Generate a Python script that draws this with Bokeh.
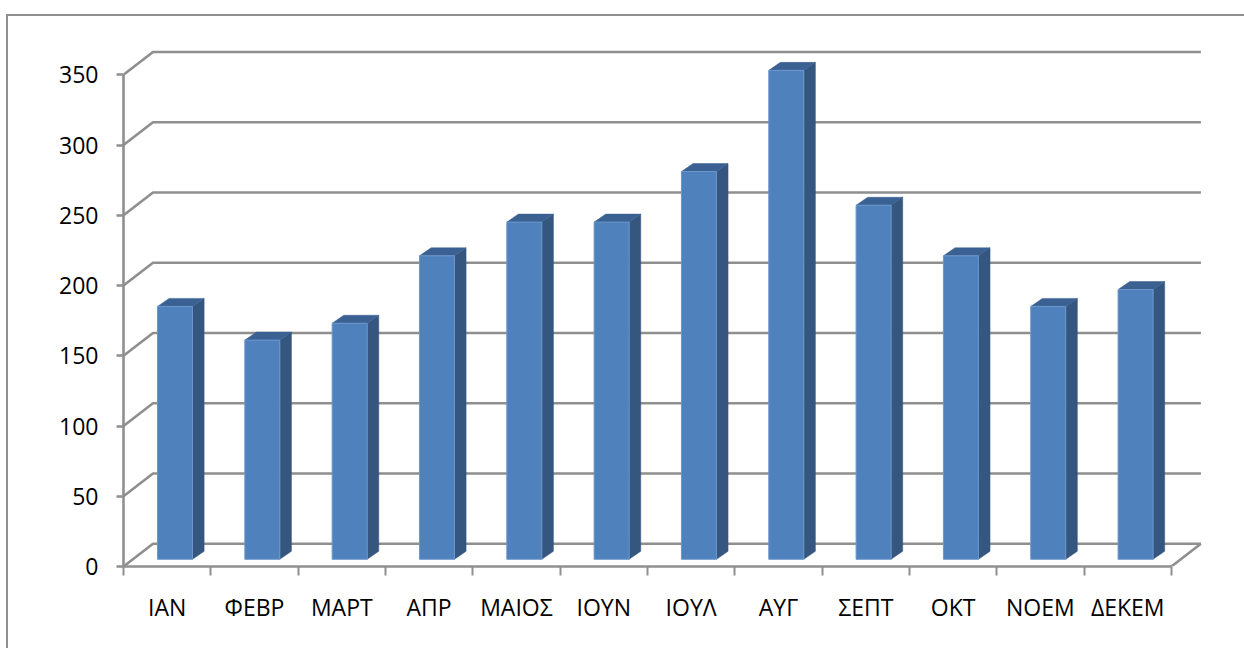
from bokeh.embed import file_html
from bokeh.models import FixedTicker, Range1d
from bokeh.plotting import figure
from bokeh.resources import INLINE

months = ["ΙΑΝ", "ΦΕΒΡ", "ΜΑΡΤ", "ΑΠΡ", "ΜΑΙΟΣ", "ΙΟΥΝ", "ΙΟΥΛ", "ΑΥΓ", "ΣΕΠΤ", "ΟΚΤ", "ΝΟΕΜ", "ΔΕΚΕΜ"]
values = [180, 156, 168, 216, 240, 240, 276, 348, 252, 216, 180, 192]
y_ticks = [0, 50, 100, 150, 200, 250, 300, 350]

WIDTH, HEIGHT = 1244, 648
LEFT, BOTTOM = 123.3, 82.5
PX_PER_CATEGORY = 87.3
PX_PER_UNIT = 491.3 / 350

GRID = "#8f8f8f"
FRONT = "#4f81bd"
SIDE = "#34567f"
TOP = "#3a6192"
FONT = "Open Sans"

# Oblique offsets of the chart's depth, in data units
wall_dx = 29.5 / PX_PER_CATEGORY
wall_dy = 22.7 / PX_PER_UNIT
bar_dx = 11.6 / PX_PER_CATEGORY
bar_dy = 8 / PX_PER_UNIT
bar_lift = 7.2 / PX_PER_UNIT
bar_left = 34 / PX_PER_CATEGORY
bar_width = 35 / PX_PER_CATEGORY

n = len(months)
p = figure(
    width=WIDTH, height=HEIGHT, output_backend="svg", toolbar_location=None,
    min_border_left=int(LEFT), min_border_right=0, min_border_top=0, min_border_bottom=int(BOTTOM),
    x_range=Range1d(0, (WIDTH - LEFT) / PX_PER_CATEGORY),
    y_range=Range1d(0, (HEIGHT - BOTTOM) / PX_PER_UNIT),
    outline_line_color=None, background_fill_color=None, border_fill_color=None,
)
p.grid.visible = False

# Outer chart border: only its left and top edges fall inside the page
edge = f"linear-gradient({GRID},{GRID})"
p.styles = {
    "background-color": "white",
    "background-image": f"{edge},{edge}",
    "background-size": "2px 634px, 1238px 2px",
    "background-position": "6px 14px, 6px 14px",
    "background-repeat": "no-repeat",
}

# Back wall gridlines with their diagonal run to the value axis, plus the floor's far side
grid_xs = [[0, wall_dx, n + wall_dx] for _ in y_ticks]
grid_ys = [[t, t + wall_dy, t + wall_dy] for t in y_ticks]
p.multi_line(grid_xs, grid_ys, line_color=GRID, line_width=2.6)
p.line([n, n + wall_dx], [0, wall_dy], line_color=GRID, line_width=2.6)

# Each column: side face, top face, then front face
fronts_l = [i + bar_left for i in range(n)]
fronts_r = [x + bar_width for x in fronts_l]
bases = [bar_lift] * n
tops = [bar_lift + v for v in values]

p.patches(
    [[r, r + bar_dx, r + bar_dx, r] for r in fronts_r],
    [[b, b + bar_dy, t + bar_dy, t] for b, t in zip(bases, tops)],
    fill_color=SIDE, line_color=SIDE, line_width=0.5,
)
p.patches(
    [[l, l + bar_dx, r + bar_dx, r] for l, r in zip(fronts_l, fronts_r)],
    [[t, t + bar_dy, t + bar_dy, t] for t in tops],
    fill_color=TOP, line_color=TOP, line_width=0.5,
)
p.quad(left=fronts_l, right=fronts_r, bottom=bases, top=tops,
       fill_color=FRONT, line_color="#6c97cb", line_width=1)

ax = p.yaxis[0]
ax.ticker = FixedTicker(ticks=y_ticks)
ax.bounds = (0, 350)
ax.axis_line_color = GRID
ax.axis_line_width = 2.6
ax.major_tick_line_color = GRID
ax.major_tick_line_width = 2.4
ax.major_tick_out = 7
ax.major_tick_in = 0
ax.minor_tick_line_color = None
ax.major_label_standoff = 18
ax.major_label_text_font = FONT
ax.major_label_text_font_size = "23px"
ax.major_label_text_color = "black"

# Month names sit between the ticks, so labels use major ticks and the marks use minor ones
bx = p.xaxis[0]
bx.ticker = FixedTicker(ticks=[i + 0.5 for i in range(n)], minor_ticks=list(range(n + 1)))
bx.major_label_overrides = {i + 0.5: m for i, m in enumerate(months)}
bx.bounds = (0, n)
bx.axis_line_color = GRID
bx.axis_line_width = 2.6
bx.major_tick_line_color = None
bx.major_tick_out = 0
bx.major_tick_in = 0
bx.minor_tick_line_color = GRID
bx.minor_tick_line_width = 2
bx.minor_tick_out = 9
bx.minor_tick_in = 0
bx.major_label_standoff = 15
bx.major_label_text_font = FONT
bx.major_label_text_font_size = "23px"
bx.major_label_text_color = "black"

open("out.html", "w").write(file_html(p, INLINE))
